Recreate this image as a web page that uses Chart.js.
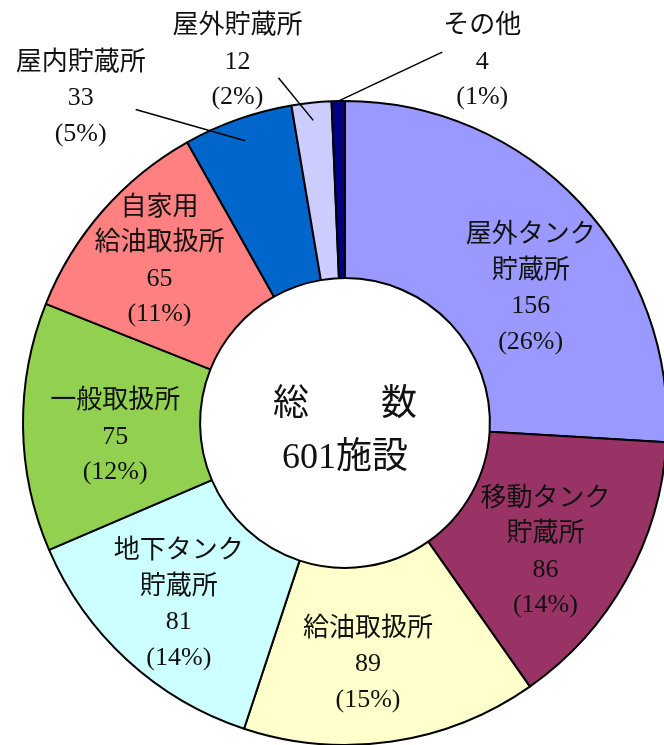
<!DOCTYPE html>
<html>
<head>
<meta charset="utf-8">
<script src="https://cdn.jsdelivr.net/npm/chart.js@4/dist/chart.umd.min.js"></script>
<style>
  html, body { margin: 0; padding: 0; background: #fff; overflow: hidden; }
  #wrap { width: 680px; height: 760px; }
</style>
</head>
<body>
<div id="wrap"><canvas id="grafico" width="680" height="760"></canvas></div>
<script>
// categories, clockwise from 12 o'clock
var categorias = ['屋外タンク貯蔵所', '移動タンク貯蔵所', '給油取扱所', '地下タンク貯蔵所', '一般取扱所', '自家用給油取扱所', '屋内貯蔵所', '屋外貯蔵所', 'その他'];
var nomeLinhas = [['屋外タンク', '貯蔵所'], ['移動タンク', '貯蔵所'], ['給油取扱所'], ['地下タンク', '貯蔵所'], ['一般取扱所'], ['自家用', '給油取扱所'], ['屋内貯蔵所'], ['屋外貯蔵所'], ['その他']];
var valores = [156, 86, 89, 81, 75, 65, 33, 12, 4];
var percentuais = [26, 14, 15, 14, 12, 11, 5, 2, 1];
var cores = ['#9999FF', '#993366', '#FFFFCC', '#CCFFFF', '#92D050', '#FF8080', '#0066CC', '#CCCCFF', '#000080'];

// label placement: point on the slice's middle angle at r * outer radius, then shifted
var posRotulos = [
  { r: 0.745, dx: 11, dy: 30 },
  { r: 0.745, dx: -9, dy: 12 },
  { r: 0.745, dx: -12, dy: 4 },
  { r: 0.745, dx: -4, dy: 5 },
  { r: 0.745, dx: 10, dy: 11 },
  { r: 0.745, dx: -5, dy: -4 },
  { r: 1.0, dx: -157, dy: -21, guia: 0.93, gx: 55, gy: 11 },
  { r: 1.0, dx: -74, dy: -41, guia: 0.945, gx: 41, gy: 16 },
  { r: 1.0, dx: 144, dy: -39, guia: 1.0, gx: -40, gy: -10 }
];

var fonteTexto = '"Liberation Serif", "Noto Sans CJK JP", serif';

var rotulos = {
  id: 'rotulos',
  afterDatasetsDraw: function (chart) {
    var ctx = chart.ctx;
    var arcos = chart.getDatasetMeta(0).data;
    ctx.save();
    ctx.textAlign = 'center';
    ctx.textBaseline = 'middle';
    ctx.fillStyle = '#111';
    ctx.strokeStyle = '#000';
    ctx.lineWidth = 1.5;
    var cx = 0, cy = 0;
    arcos.forEach(function (arco, i) {
      var p = arco.getProps(['x', 'y', 'startAngle', 'endAngle', 'outerRadius'], true);
      cx = p.x; cy = p.y;
      var meio = (p.startAngle + p.endAngle) / 2;
      var pos = posRotulos[i];
      var tx = p.x + Math.cos(meio) * pos.r * p.outerRadius + pos.dx;
      var ty = p.y + Math.sin(meio) * pos.r * p.outerRadius + pos.dy;
      if (pos.guia) {
        ctx.beginPath();
        ctx.moveTo(tx + pos.gx, ty + pos.gy);
        ctx.lineTo(p.x + Math.cos(meio) * pos.guia * p.outerRadius, p.y + Math.sin(meio) * pos.guia * p.outerRadius);
        ctx.stroke();
      }
      var linhas = nomeLinhas[i].concat([String(valores[i]), '(' + percentuais[i] + '%)']);
      ctx.font = '26px ' + fonteTexto;
      linhas.forEach(function (t, k) {
        ctx.fillText(t, tx, ty + (k - (linhas.length - 1) / 2) * 35.5);
      });
    });
    // centre text
    var total = valores.reduce(function (a, b) { return a + b; }, 0);
    ctx.font = '36px ' + fonteTexto;
    ctx.fillText('総　　数', cx, cy - 17);
    ctx.fillText(total + '施設', cx, cy + 36);
    ctx.restore();
  }
};

var ctx = document.getElementById('grafico').getContext('2d');
var grafico = new Chart(ctx, {
  type: 'doughnut',
  data: {
    labels: categorias,
    datasets: [{
      data: valores,
      backgroundColor: cores,
      borderColor: '#000',
      borderWidth: 2
    }]
  },
  options: {
    responsive: false,
    animation: false,
    events: [],
    cutout: '45%',
    layout: { padding: { left: 22, top: 100, right: 12, bottom: 14 } },
    plugins: {
      legend: { display: false },
      tooltip: { enabled: false }
    }
  },
  plugins: [rotulos]
});
</script>
</body>
</html>
